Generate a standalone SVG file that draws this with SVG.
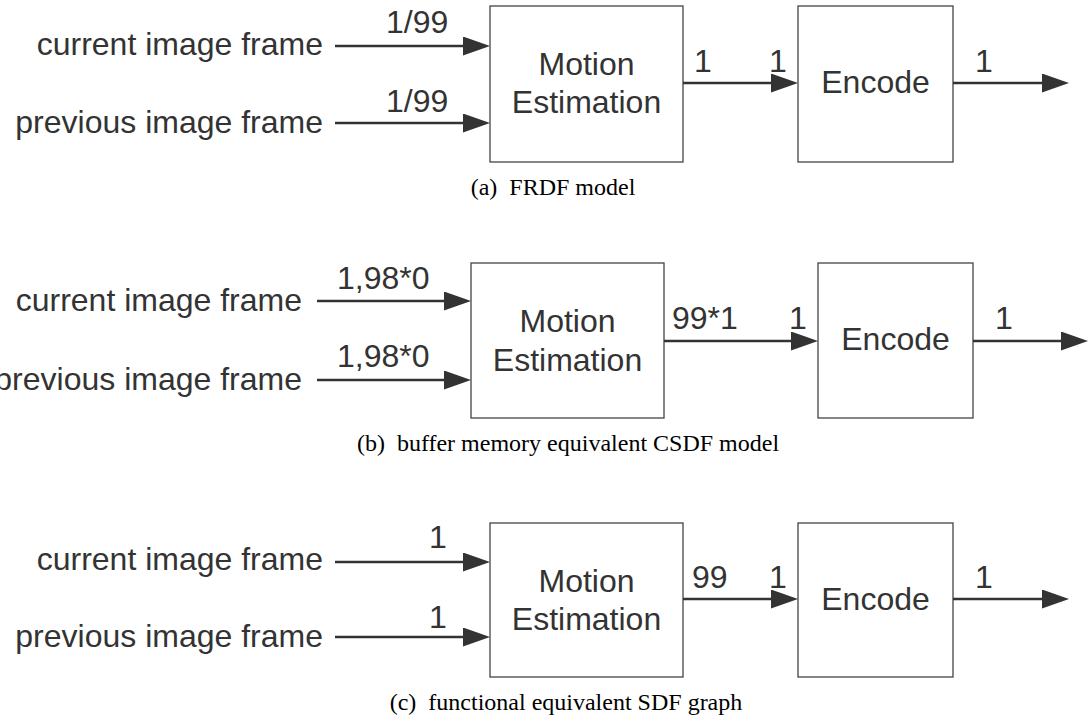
<svg xmlns="http://www.w3.org/2000/svg" width="1089" height="727" viewBox="0 0 1089 727">
  <defs>
    <marker id="arrow" markerUnits="userSpaceOnUse" markerWidth="28" markerHeight="20" refX="19" refY="9.5" orient="auto">
      <path d="M0,0 L27,9.5 L0,19 Z" fill="#333"/>
    </marker>
    <style>
      .box { fill: #fff; stroke: #444; stroke-width: 1.3; }
      .edge { stroke: #333; stroke-width: 2.6; fill: none; marker-end: url(#arrow); }
      .lbl { font-family: "Liberation Sans", Arial, sans-serif; font-size: 32px; fill: #333; }
      .mid { text-anchor: middle; }
      .end { text-anchor: end; }
      .cap { font-family: "Liberation Serif", "Times New Roman", serif; font-size: 24px; fill: #000; text-anchor: middle; white-space: pre; }
    </style>
  </defs>
  <rect width="1089" height="727" fill="#fff"/>

  <!-- (a) FRDF model -->
  <g id="a-inputs">
    <text class="lbl end" x="323" y="55">current image frame</text>
    <text class="lbl end" x="323" y="133">previous image frame</text>
  </g>
  <g id="a-motion">
    <rect class="box" x="490" y="6" width="193" height="156"/>
    <text class="lbl mid" x="586.5" y="75">Motion</text>
    <text class="lbl mid" x="586.5" y="113">Estimation</text>
  </g>
  <g id="a-encode">
    <rect class="box" x="798" y="6" width="155" height="156"/>
    <text class="lbl mid" x="875.5" y="93">Encode</text>
  </g>
  <g id="a-connectors">
    <line class="edge" x1="335" y1="46" x2="482" y2="46"/>
    <line class="edge" x1="335" y1="123" x2="482" y2="123"/>
    <line class="edge" x1="683" y1="83" x2="790" y2="83"/>
    <line class="edge" x1="953" y1="83" x2="1061" y2="83"/>
    <text class="lbl" x="386" y="33">1/99</text>
    <text class="lbl" x="386" y="112">1/99</text>
    <text class="lbl" x="694" y="72">1</text>
    <text class="lbl" x="769" y="72">1</text>
    <text class="lbl" x="975" y="72">1</text>
  </g>
  <text class="cap" x="553" y="195">(a)  FRDF model</text>

  <!-- (b) buffer memory equivalent CSDF model -->
  <g id="b-inputs">
    <text class="lbl end" x="302" y="311">current image frame</text>
    <text class="lbl end" x="302" y="390">previous image frame</text>
  </g>
  <g id="b-motion">
    <rect class="box" x="471" y="263" width="193" height="155"/>
    <text class="lbl mid" x="567.5" y="332">Motion</text>
    <text class="lbl mid" x="567.5" y="371">Estimation</text>
  </g>
  <g id="b-encode">
    <rect class="box" x="818" y="263" width="155" height="155"/>
    <text class="lbl mid" x="895.5" y="350">Encode</text>
  </g>
  <g id="b-connectors">
    <line class="edge" x1="317" y1="301" x2="463" y2="301"/>
    <line class="edge" x1="317" y1="380" x2="463" y2="380"/>
    <line class="edge" x1="664" y1="341" x2="810" y2="341"/>
    <line class="edge" x1="973" y1="341" x2="1080" y2="341"/>
    <text class="lbl" x="337" y="289">1,98*0</text>
    <text class="lbl" x="337" y="367">1,98*0</text>
    <text class="lbl" x="672" y="329">99*1</text>
    <text class="lbl" x="789" y="329">1</text>
    <text class="lbl" x="995" y="329">1</text>
  </g>
  <text class="cap" x="568" y="451">(b)  buffer memory equivalent CSDF model</text>

  <!-- (c) functional equivalent SDF graph -->
  <g id="c-inputs">
    <text class="lbl end" x="323" y="570">current image frame</text>
    <text class="lbl end" x="323" y="647">previous image frame</text>
  </g>
  <g id="c-motion">
    <rect class="box" x="490" y="523" width="193" height="154"/>
    <text class="lbl mid" x="586.5" y="592">Motion</text>
    <text class="lbl mid" x="586.5" y="630">Estimation</text>
  </g>
  <g id="c-encode">
    <rect class="box" x="798" y="523" width="155" height="154"/>
    <text class="lbl mid" x="875.5" y="610">Encode</text>
  </g>
  <g id="c-connectors">
    <line class="edge" x1="335" y1="562" x2="482" y2="562"/>
    <line class="edge" x1="335" y1="637" x2="482" y2="637"/>
    <line class="edge" x1="683" y1="599" x2="790" y2="599"/>
    <line class="edge" x1="953" y1="599" x2="1061" y2="599"/>
    <text class="lbl" x="429" y="548">1</text>
    <text class="lbl" x="429" y="628">1</text>
    <text class="lbl" x="692" y="588">99</text>
    <text class="lbl" x="769" y="588">1</text>
    <text class="lbl" x="975" y="588">1</text>
  </g>
  <text class="cap" x="566" y="710">(c)  functional equivalent SDF graph</text>
</svg>
